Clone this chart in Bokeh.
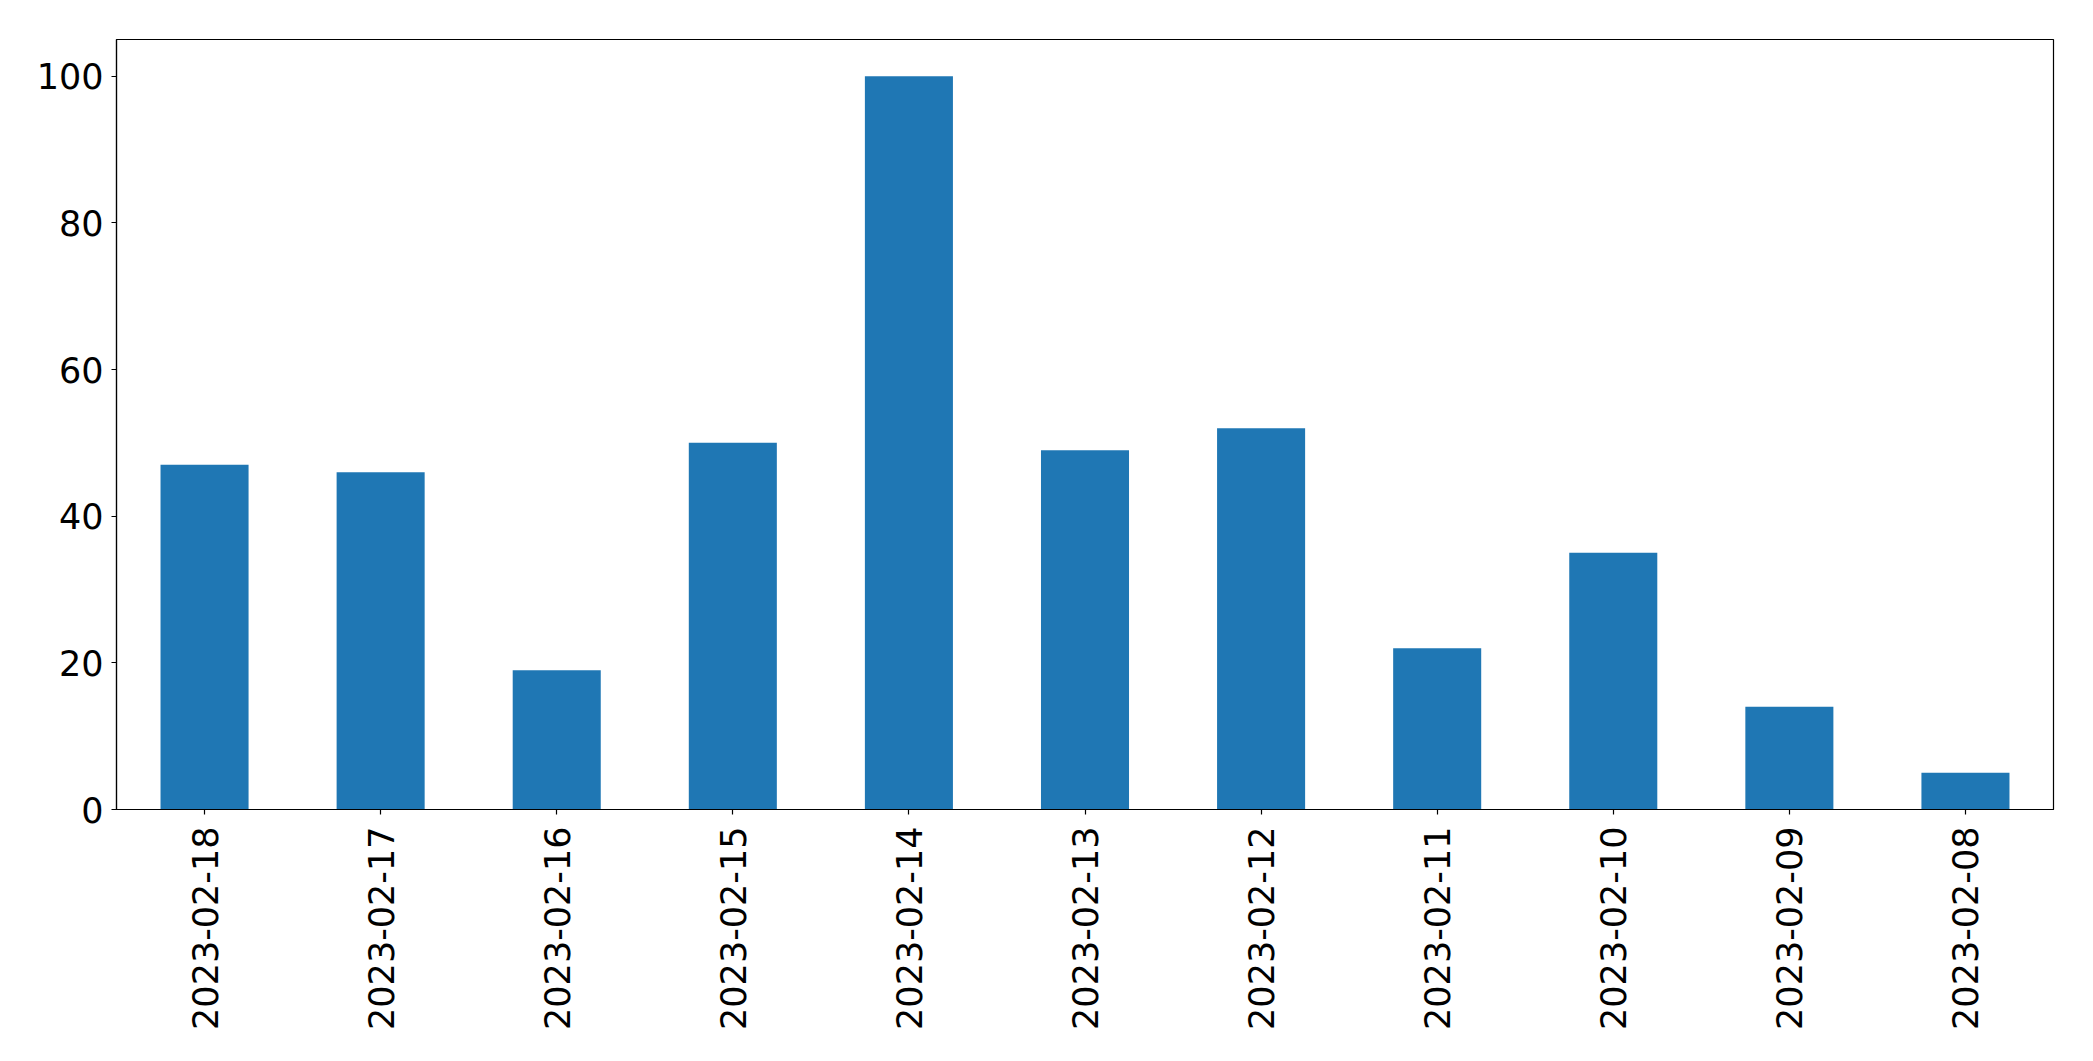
import math
from bokeh.plotting import figure
from bokeh.models import FixedTicker, Range1d, FactorRange
from bokeh.embed import file_html
from bokeh.resources import INLINE

dates = ["2023-02-18", "2023-02-17", "2023-02-16", "2023-02-15", "2023-02-14",
         "2023-02-13", "2023-02-12", "2023-02-11", "2023-02-10", "2023-02-09",
         "2023-02-08"]
counts = [47, 46, 19, 50, 100, 49, 52, 22, 35, 14, 5]
y_ticks = [0, 20, 40, 60, 80, 100]

FONT = "DejaVu Sans"

p = figure(
    x_range=FactorRange(*dates, range_padding=0),
    y_range=Range1d(0, 105),
    width=2077, height=1045,
    output_backend="svg", toolbar_location=None,
    min_border_left=116, min_border_right=24,
    min_border_top=39, min_border_bottom=236,
)
p.frame_width = 1937
p.frame_height = 770

p.vbar(x=dates, top=counts, width=0.5, color="#1f77b4", line_color=None)

p.xgrid.visible = False
p.ygrid.visible = False
p.outline_line_color = "black"
p.outline_line_width = 1.2
p.background_fill_color = "white"
p.border_fill_color = "white"

for ax in (p.xaxis, p.yaxis):
    ax.axis_line_color = "black"
    ax.axis_line_width = 1.2
    ax.major_tick_line_color = "black"
    ax.major_tick_line_width = 1.2
    ax.major_tick_out = 5
    ax.major_tick_in = 0
    ax.minor_tick_line_color = None
    ax.major_label_text_font = FONT
    ax.major_label_text_font_size = "35px"
    ax.major_label_text_color = "black"

p.yaxis.ticker = FixedTicker(ticks=y_ticks)
p.yaxis.major_label_standoff = 8
p.xaxis.major_label_orientation = math.pi / 2
p.xaxis.major_label_standoff = 12

open("out.html", "w").write(file_html(p, INLINE))
